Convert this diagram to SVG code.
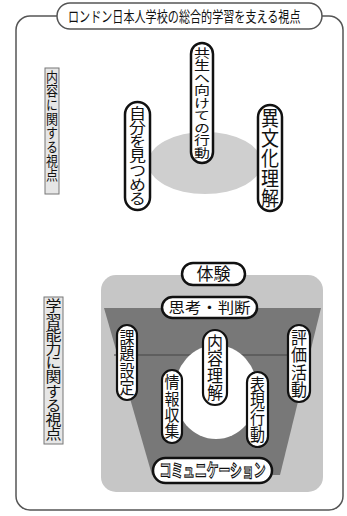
<svg xmlns="http://www.w3.org/2000/svg" width="347" height="516" viewBox="0 0 347 516">
<style>
.jp{font-family:"Noto Sans CJK JP","Noto Sans",sans-serif;fill:#111;}
.v{writing-mode:vertical-rl;text-orientation:upright;}
.pill{fill:#fff;stroke:#111;stroke-width:2.5;}
.pill2{fill:#fff;stroke:#111;stroke-width:2.2;}
.lab{fill:#e6e6e6;stroke:#777;stroke-width:1;}
</style>
<rect width="347" height="516" fill="#fff"/>
<g id="frame">
<rect x="16" y="16" width="327" height="494" rx="14" fill="none" stroke="#555" stroke-width="1.5"/>
</g>
<g id="title">
<rect x="57" y="3" width="265" height="26" rx="13" fill="#fff" stroke="#555" stroke-width="1.5"/>
<text class="jp" transform="translate(68,22) scale(1,1.35)" x="0" y="0" font-size="11.1">ロンドン日本人学校の総合的学習を支える視点</text>
</g>
<g id="label-content">
<rect class="lab" x="45" y="68" width="14" height="126"/>
<text class="jp v" x="52" y="70" font-size="12" textLength="112" lengthAdjust="spacingAndGlyphs">内容に関する視点</text>
</g>
<g id="label-ability">
<rect class="lab" x="44" y="297" width="19" height="147"/>
<text class="jp v" x="53.5" y="299" font-size="16" textLength="142" lengthAdjust="spacingAndGlyphs">学習能力に関する視点</text>
</g>
<g id="upper">
<ellipse cx="205" cy="163" rx="57" ry="31" fill="#cfcfcf"/>
</g>
<g id="node-kyosei">
<rect class="pill" x="191" y="43" width="22" height="120" rx="11"/>
<text class="jp v" x="202" y="47" font-size="16" textLength="112" lengthAdjust="spacingAndGlyphs">共生へ向けての行動</text>
</g>
<g id="node-jibun">
<rect class="pill" x="125" y="102" width="25" height="108" rx="12.5"/>
<text class="jp v" x="137.5" y="106" font-size="17" textLength="100" lengthAdjust="spacingAndGlyphs">自分を見つめる</text>
</g>
<g id="node-ibunka">
<rect class="pill" x="258" y="105" width="24" height="106" rx="12"/>
<text class="jp v" x="270" y="108" font-size="18" textLength="100" lengthAdjust="spacingAndGlyphs">異文化理解</text>
</g>
<g id="lower-bg">
<rect x="101" y="275" width="222" height="217" rx="15" fill="#c6c6c6"/>
<polygon points="104,308 321,308 280,475 152,475" fill="#787878"/>
<line x1="114" y1="355" x2="309" y2="355" stroke="#444" stroke-width="1"/>
<ellipse cx="216" cy="392" rx="42" ry="47" fill="#fff"/>
</g>
<g id="node-taiken">
<rect class="pill" x="182" y="263" width="63" height="22" rx="11"/>
<text class="jp" x="213.5" y="280" font-size="17" text-anchor="middle">体験</text>
</g>
<g id="node-shiko">
<rect class="pill" x="162" y="297" width="95" height="21" rx="10.5"/>
<text class="jp" x="209.5" y="313" font-size="15" text-anchor="middle" textLength="82" lengthAdjust="spacingAndGlyphs">思考・判断</text>
</g>
<g id="node-kadai">
<rect class="pill2" x="117" y="325" width="20" height="75" rx="10"/>
<text class="jp v" x="127" y="329" font-size="15" textLength="67" lengthAdjust="spacingAndGlyphs">課題設定</text>
</g>
<g id="node-naiyo">
<rect class="pill2" x="203" y="330" width="24" height="75" rx="12"/>
<text class="jp v" x="215" y="334" font-size="16" textLength="67" lengthAdjust="spacingAndGlyphs">内容理解</text>
</g>
<g id="node-hyoka">
<rect class="pill2" x="288" y="325" width="22" height="77" rx="11"/>
<text class="jp v" x="299" y="329" font-size="16" textLength="69" lengthAdjust="spacingAndGlyphs">評価活動</text>
</g>
<g id="node-joho">
<rect class="pill2" x="162" y="370" width="20" height="73" rx="10"/>
<text class="jp v" x="172" y="374" font-size="15" textLength="65" lengthAdjust="spacingAndGlyphs">情報収集</text>
</g>
<g id="node-hyogen">
<rect class="pill2" x="247" y="372" width="21" height="75" rx="10.5"/>
<text class="jp v" x="257.5" y="376" font-size="15" textLength="67" lengthAdjust="spacingAndGlyphs">表現行動</text>
</g>
<g id="node-comm">
<rect class="pill" x="153" y="458" width="119" height="25" rx="12.5"/>
<text x="212.5" y="477" font-size="18" font-weight="bold" text-anchor="middle" textLength="106" lengthAdjust="spacingAndGlyphs" style="font-family:'Noto Sans CJK JP','Noto Sans',sans-serif;fill:#fff;stroke:#111;stroke-width:1.2">コミュニケーション</text>
</g>
<g id="connectors"/>
</svg>
